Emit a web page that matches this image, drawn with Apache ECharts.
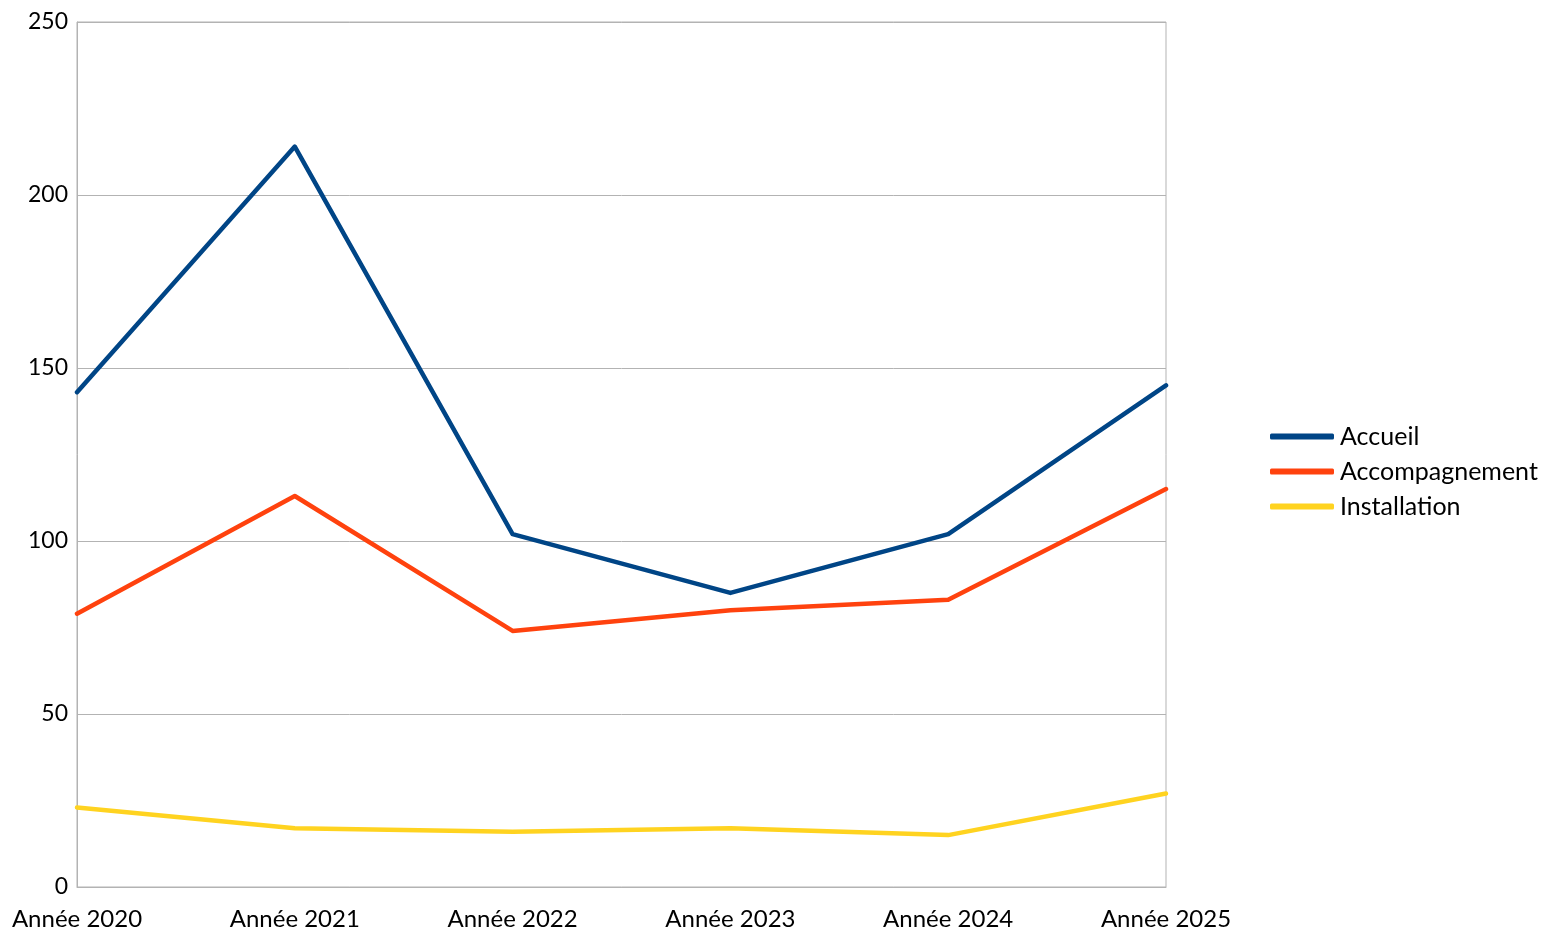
<!DOCTYPE html>
<html>
<head>
<meta charset="utf-8">
<script src="https://cdn.jsdelivr.net/npm/echarts@6/dist/echarts.min.js"></script>
<style>html,body{margin:0;padding:0;background:#fff}#c{width:1547px;height:931px}</style>
</head>
<body>
<div id="c"></div>
<script>
const categories = ['Année 2020','Année 2021','Année 2022','Année 2023','Année 2024','Année 2025'];
const accueil = [143, 214, 102, 85, 102, 145];
const accompagnement = [79, 113, 74, 80, 83, 115];
const installation = [23, 17, 16, 17, 15, 27];
const seriesNames = ['Accueil','Accompagnement','Installation'];
const colors = ['#004586','#ff420e','#ffd320'];

const chart = echarts.init(document.getElementById('c'));
const font = 'Lato, "Open Sans", sans-serif';
const mk = (name, data, color) => ({
  name, type: 'line', data, showSymbol: false, symbol: 'none',
  lineStyle: {color, width: 4.5, cap: 'round', join: 'round'}, itemStyle: {color},
  animation: false
});
chart.setOption({
  animation: false,
  grid: {left: 77, top: 22, right: 381, bottom: 44, show: true, borderColor: '#b3b3b3', borderWidth: 1},
  xAxis: {
    type: 'category', data: categories, boundaryGap: false,
    axisLine: {lineStyle: {color: '#b3b3b3'}}, axisTick: {show: false},
    axisLabel: {color: '#000', fontSize: 24, fontFamily: font, margin: 20, interval: 0}
  },
  yAxis: {
    type: 'value', min: 0, max: 250, interval: 50,
    axisLine: {show: true, lineStyle: {color: '#b3b3b3'}}, axisTick: {show: false},
    splitLine: {lineStyle: {color: '#b3b3b3', width: 1}},
    axisLabel: {color: '#000', fontSize: 23, fontFamily: font, margin: 9}
  },
  legend: {
    orient: 'vertical', left: 1270, top: 424, padding: 0, itemWidth: 64, itemHeight: 6, itemGap: 10,
    icon: 'roundRect', data: seriesNames,
    textStyle: {color: '#000', fontSize: 25, lineHeight: 24, fontFamily: font, padding: [0,0,0,1]}
  },
  series: [mk(seriesNames[0], accueil, colors[0]), mk(seriesNames[1], accompagnement, colors[1]), mk(seriesNames[2], installation, colors[2])]
});
</script>
</body>
</html>
